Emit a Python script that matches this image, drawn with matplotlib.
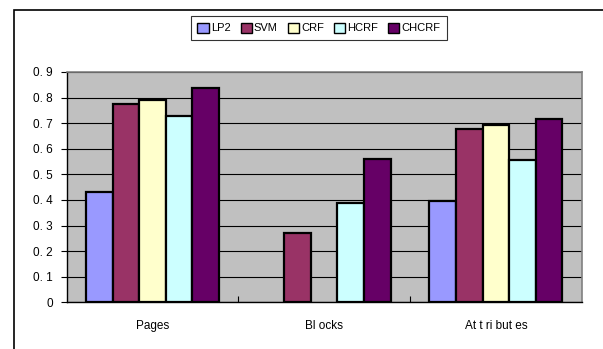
import matplotlib.pyplot as plt
from matplotlib.patches import Rectangle
import numpy as np

plt.rcParams['font.family'] = ['Liberation Sans', 'DejaVu Sans']

# data (nan = no bar shown)
categories = ['Pages', 'Bl ocks', 'At t ri but es']
methods = ['LP2', 'SVM', 'CRF', 'HCRF', 'CHCRF']
lp2 = [0.43, np.nan, 0.395]
svm = [0.775, 0.27, 0.677]
crf = [0.79, np.nan, 0.692]
hcrf = [0.727, 0.387, 0.557]
chcrf = [0.837, 0.558, 0.718]
yticks = [0, 0.1, 0.2, 0.3, 0.4, 0.5, 0.6, 0.7, 0.8, 0.9]

colors = ['#9999FF', '#993366', '#FFFFCC', '#CCFFFF', '#660066']
series = [lp2, svm, crf, hcrf, chcrf]

fig = plt.figure(figsize=(6.03, 3.49), dpi=100)
# outer chart frame (runs off right/bottom edge like the original)
fig.patches.append(Rectangle((14 / 603, -0.05), 1.0, 1 - 10 / 349 + 0.05,
                             transform=fig.transFigure, fill=False,
                             edgecolor='black', linewidth=1.2))

ax = fig.add_axes([0.1106, 0.1338, 0.854, 0.66])
ax.set_facecolor('#C0C0C0')

x = np.arange(len(categories))
w = 0.155
for i, (vals, c, name) in enumerate(zip(series, colors, methods)):
    ax.bar(x + (i - 2) * w, vals, w, color=c, edgecolor='black',
           linewidth=1.6, label=name, zorder=3)

ax.set_xlim(-0.5, 2.5)
ax.set_ylim(0, 0.9)
ax.set_yticks(yticks)
ax.set_yticklabels(['0'] + ['0. %d' % round(v * 10) for v in yticks[1:]], fontsize=8.5)
ax.yaxis.grid(True, color='black', linewidth=0.8, zorder=1)
ax.tick_params(axis='y', direction='out', length=4, width=0.8, pad=6)

ax.set_xticks([0.5, 1.5])
ax.set_xticklabels([])
ax.set_xticks(x, minor=True)
ax.set_xticklabels(categories, minor=True, fontsize=8.5)
ax.tick_params(axis='x', which='major', direction='in', length=4, width=0.8)
ax.tick_params(axis='x', which='minor', length=0, pad=13)

for s in ['top', 'right']:
    ax.spines[s].set_color('#808080')
    ax.spines[s].set_linewidth(1.2)
for s in ['left', 'bottom']:
    ax.spines[s].set_color('black')
    ax.spines[s].set_linewidth(1.0)

leg = fig.legend(loc='center', bbox_to_anchor=(319 / 603, 1 - 28 / 349), ncol=5,
                 fontsize=8, frameon=True, fancybox=False, edgecolor='black',
                 handlelength=1.0, handleheight=1.0, handletextpad=0.2,
                 columnspacing=0.9, borderpad=0.6, borderaxespad=0)
leg.get_frame().set_linewidth(0.8)
for h in leg.legend_handles:
    h.set_linewidth(1.0)

fig.savefig('out.png', dpi=100)
